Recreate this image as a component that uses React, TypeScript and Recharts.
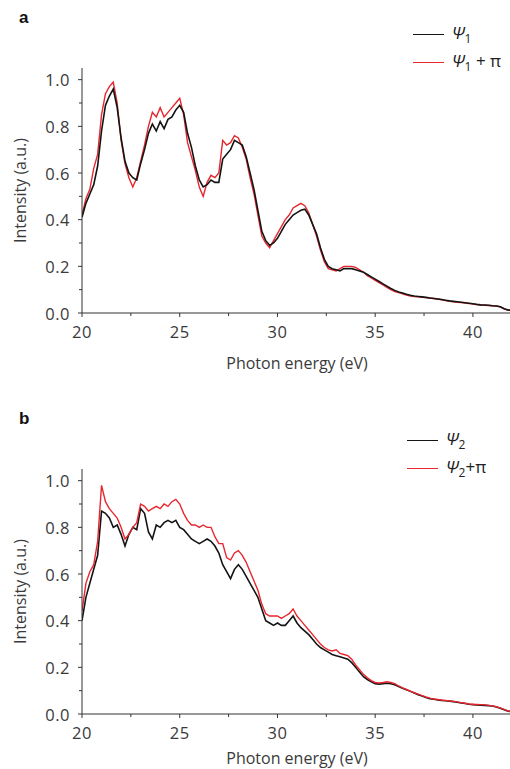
import { LineChart, Line, XAxis, YAxis, Legend } from 'recharts';

// photon energy grid (eV)
const energy = [
  20.0, 20.2, 20.4, 20.6, 20.8, 21.0, 21.2, 21.4, 21.6, 21.8,
  22.0, 22.2, 22.4, 22.6, 22.8, 23.0, 23.2, 23.4, 23.6, 23.8,
  24.0, 24.2, 24.4, 24.6, 24.8, 25.0, 25.2, 25.4, 25.6, 25.8,
  26.0, 26.2, 26.4, 26.6, 26.8, 27.0, 27.2, 27.4, 27.6, 27.8,
  28.0, 28.2, 28.4, 28.6, 28.8, 29.0, 29.2, 29.4, 29.6, 29.8,
  30.0, 30.2, 30.4, 30.6, 30.8, 31.0, 31.2, 31.4, 31.6, 31.8,
  32.0, 32.2, 32.4, 32.6, 32.8, 33.0, 33.2, 33.4, 33.6, 33.8,
  34.0, 34.2, 34.4, 34.6, 34.8, 35.0, 35.2, 35.4, 35.6, 35.8,
  36.0, 36.2, 36.4, 36.6, 36.8, 37.0, 37.2, 37.4, 37.6, 37.8,
  38.0, 38.2, 38.4, 38.6, 38.8, 39.0, 39.2, 39.4, 39.6, 39.8,
  40.0, 40.2, 40.4, 40.6, 40.8, 41.0, 41.2, 41.4, 41.6, 41.8,
  42.0,
];

// panel a
const psi1 = [
  0.41, 0.47, 0.51, 0.55, 0.63, 0.78, 0.89, 0.93, 0.96, 0.88,
  0.75, 0.65, 0.60, 0.58, 0.57, 0.64, 0.70, 0.77, 0.81, 0.78,
  0.82, 0.79, 0.83, 0.84, 0.87, 0.89, 0.86, 0.77, 0.71, 0.63,
  0.57, 0.54, 0.55, 0.57, 0.56, 0.56, 0.66, 0.68, 0.70, 0.74,
  0.73, 0.72, 0.67, 0.60, 0.53, 0.44, 0.35, 0.31, 0.29, 0.30,
  0.32, 0.35, 0.38, 0.40, 0.42, 0.43, 0.44, 0.445, 0.42, 0.38,
  0.34, 0.28, 0.23, 0.20, 0.19, 0.185, 0.18, 0.19, 0.19, 0.19,
  0.185, 0.18, 0.175, 0.165, 0.155, 0.145, 0.135, 0.125, 0.115, 0.105,
  0.097, 0.09, 0.086, 0.08, 0.076, 0.073, 0.071, 0.069, 0.067, 0.064,
  0.062, 0.06, 0.058, 0.055, 0.052, 0.05, 0.048, 0.046, 0.044, 0.042,
  0.04, 0.037, 0.035, 0.034, 0.033, 0.031, 0.03, 0.027, 0.018, 0.013,
  0.012,
];
const psi1Pi = [
  0.42, 0.49, 0.53, 0.62, 0.68, 0.85, 0.94, 0.97, 0.99, 0.90,
  0.74, 0.64, 0.58, 0.54, 0.58, 0.65, 0.72, 0.80, 0.86, 0.84,
  0.88, 0.84, 0.86, 0.88, 0.90, 0.92, 0.85, 0.73, 0.67, 0.61,
  0.54, 0.50, 0.56, 0.59, 0.58, 0.60, 0.74, 0.72, 0.73, 0.76,
  0.75, 0.71, 0.66, 0.58, 0.51, 0.42, 0.33, 0.30, 0.28, 0.31,
  0.34, 0.37, 0.40, 0.42, 0.45, 0.46, 0.47, 0.46, 0.43, 0.38,
  0.33, 0.27, 0.22, 0.19, 0.185, 0.18, 0.19, 0.20, 0.20, 0.20,
  0.195, 0.185, 0.175, 0.16, 0.15, 0.14, 0.13, 0.12, 0.11, 0.10,
  0.092, 0.087, 0.082, 0.077, 0.073, 0.07, 0.069, 0.067, 0.066, 0.064,
  0.062, 0.06, 0.057, 0.053, 0.05, 0.048, 0.046, 0.045, 0.043, 0.041,
  0.038, 0.036, 0.034, 0.033, 0.032, 0.031, 0.03, 0.026, 0.018, 0.012,
  0.011,
];

// panel b
const psi2 = [
  0.40, 0.50, 0.56, 0.62, 0.68, 0.87, 0.86, 0.84, 0.80, 0.81,
  0.77, 0.72, 0.77, 0.80, 0.79, 0.88, 0.86, 0.78, 0.75, 0.81,
  0.80, 0.82, 0.83, 0.82, 0.83, 0.80, 0.79, 0.77, 0.75, 0.74,
  0.73, 0.74, 0.75, 0.74, 0.72, 0.69, 0.64, 0.61, 0.58, 0.62,
  0.64, 0.62, 0.59, 0.56, 0.53, 0.50, 0.45, 0.40, 0.39, 0.38,
  0.39, 0.38, 0.38, 0.40, 0.42, 0.39, 0.37, 0.355, 0.34, 0.32,
  0.30, 0.285, 0.275, 0.265, 0.255, 0.25, 0.245, 0.24, 0.235, 0.22,
  0.20, 0.18, 0.16, 0.148, 0.138, 0.13, 0.128, 0.13, 0.132, 0.13,
  0.125, 0.118, 0.11, 0.104, 0.097, 0.09, 0.083, 0.077, 0.071, 0.066,
  0.063, 0.06, 0.058, 0.057, 0.055, 0.053, 0.05, 0.047, 0.045, 0.042,
  0.04, 0.039, 0.038, 0.037, 0.036, 0.034, 0.03, 0.025, 0.018, 0.012,
  0.01,
];
const psi2Pi = [
  0.44, 0.56, 0.61, 0.64, 0.74, 0.98, 0.91, 0.88, 0.86, 0.84,
  0.80, 0.75, 0.77, 0.80, 0.82, 0.90, 0.89, 0.87, 0.88, 0.89,
  0.88, 0.90, 0.89, 0.91, 0.92, 0.90, 0.86, 0.83, 0.81, 0.81,
  0.80, 0.81, 0.80, 0.80, 0.76, 0.73, 0.73, 0.67, 0.66, 0.69,
  0.70, 0.68, 0.65, 0.61, 0.57, 0.53, 0.47, 0.43, 0.42, 0.42,
  0.42, 0.41, 0.42, 0.43, 0.45, 0.42, 0.40, 0.38, 0.36, 0.34,
  0.32, 0.30, 0.285, 0.275, 0.27, 0.275, 0.26, 0.255, 0.25, 0.235,
  0.21, 0.19, 0.17, 0.155, 0.143, 0.135, 0.133, 0.135, 0.138, 0.135,
  0.13, 0.12, 0.112, 0.105, 0.098, 0.091, 0.085, 0.079, 0.073, 0.068,
  0.064, 0.062, 0.06, 0.058, 0.056, 0.054, 0.052, 0.049, 0.046, 0.043,
  0.042, 0.041, 0.04, 0.039, 0.037, 0.035, 0.031, 0.026, 0.02, 0.013,
  0.01,
];

const xTicks = [20, 22.5, 25, 27.5, 30, 32.5, 35, 37.5, 40];
const yTicks = [0, 0.1, 0.2, 0.3, 0.4, 0.5, 0.6, 0.7, 0.8, 0.9, 1.0];

const FONT = '"Open Sans", Lato, sans-serif';
const TXT = '#3a3a3a';
const AXIS = '#333';
const RED = '#e8262d';
const BLACK = '#141414';

const XTick = (props: any) => {
  const { x, y, payload } = props;
  const v = payload.value;
  const major = v % 5 === 0;
  return (
    <g>
      <line x1={x} y1={y} x2={x} y2={y + (major ? 4 : 3)} stroke={AXIS} />
      {major && (
        <text x={x} y={y + 18} textAnchor="middle" dominantBaseline="central" fill={TXT} fontSize={16.5} letterSpacing={0.5} fontFamily={FONT}>
          {v}
        </text>
      )}
    </g>
  );
};

const YTick = (props: any) => {
  const { x, y, payload } = props;
  const v = payload.value;
  const major = Math.round(v * 10) % 2 === 0;
  return (
    <g>
      <line x1={x} y1={y} x2={x - (major ? 4 : 3)} y2={y} stroke={AXIS} />
      {major && (
        <text x={x - 12} y={y} textAnchor="end" dominantBaseline="central" fill={TXT} fontSize={16.5} letterSpacing={0.5} fontFamily={FONT}>
          {v.toFixed(1)}
        </text>
      )}
    </g>
  );
};

function Psi({ sub, plus }: { sub: string; plus?: boolean }) {
  return (
    <span style={{ fontFamily: FONT, fontSize: 17, color: '#222', whiteSpace: 'nowrap' }}>
      <i>Ψ</i>
      <sub style={{ fontSize: 12 }}>{sub}</sub>
      {plus && <span>{sub === '1' ? ' + π' : '+π'}</span>}
    </span>
  );
}

interface PanelProps {
  tag: string;
  sub: string;
  a: number[];
  b: number[];
  top: number;
  height: number;
  labelOffset: number;
  legendX: number;
  legendY: number;
  redOnTop?: boolean;
}

function Panel({ tag, sub, a, b, top, height, labelOffset, legendX, legendY, redOnTop }: PanelProps) {
  const rows = energy.map((e, i) => ({ e, s: a[i], p: b[i] }));
  const black = (
    <Line key="s" dataKey="s" name="s" stroke={BLACK} strokeWidth={1.6} dot={false} isAnimationActive={false} />
  );
  const red = (
    <Line key="p" dataKey="p" name="p" stroke={RED} strokeWidth={1.4} dot={false} isAnimationActive={false} />
  );
  return (
    <div style={{ position: 'relative', width: 510, height, overflow: 'hidden' }}>
      <div style={{ position: 'absolute', left: 19, top: top - 4, fontFamily: 'Arial, sans-serif', fontWeight: 'bold', fontSize: 17, color: '#111' }}>
        {tag}
      </div>
      <LineChart width={512} height={height} data={rows} margin={{ top, right: 0, left: 0, bottom: 0 }}>
        <XAxis
          dataKey="e"
          type="number"
          domain={[20, 42]}
          ticks={xTicks}
          interval={0}
          tickSize={0}
          tickMargin={0}
          tickLine={false}
          tick={<XTick />}
          stroke={AXIS}
          height={height - top - 301}
          allowDataOverflow
          label={{ value: 'Photon energy (eV)', position: 'insideBottom', offset: labelOffset, fill: TXT, fontSize: 16, fontFamily: FONT }}
        />
        <XAxis xAxisId="top" orientation="top" dataKey="e" type="number" domain={[20, 42]} height={0} tick={false} tickLine={false} stroke={AXIS} />
        <YAxis
          type="number"
          domain={[0, 1.05]}
          ticks={yTicks}
          interval={0}
          width={82}
          tickSize={0}
          tickMargin={0}
          tickLine={false}
          tick={<YTick />}
          stroke={AXIS}
          allowDataOverflow
          label={{ value: 'Intensity (a.u.)', angle: -90, position: 'insideLeft', offset: 20, fill: TXT, fontSize: 16, fontFamily: FONT, style: { textAnchor: 'middle' } }}
        />
        <Legend
          layout="vertical"
          align="center"
          verticalAlign="top"
          wrapperStyle={{ position: 'absolute', left: legendX, top: legendY, width: 100 }}
          content={() => (
            <div>
              {[{ c: BLACK, plus: false }, { c: RED, plus: true }].map((it, i) => (
                <div key={i} style={{ display: 'flex', alignItems: 'center', height: 28 }}>
                  <div style={{ width: 31, height: 0, borderTop: `1.3px solid ${it.c}`, marginRight: 8 }} />
                  <Psi sub={sub} plus={it.plus} />
                </div>
              ))}
            </div>
          )}
        />
        {redOnTop ? [black, red] : [red, black]}
      </LineChart>
    </div>
  );
}

export default function App() {
  return (
    <div style={{ position: 'absolute', left: 0, top: 0, width: 510, height: 769, background: '#fff' }}>
      <Panel tag="a" sub="1" a={psi1} b={psi1Pi} top={12} height={380} labelOffset={11} legendX={413} legendY={20} />
      <div style={{ height: 10 }} />
      <Panel tag="b" sub="2" a={psi2} b={psi2Pi} top={23} height={379} labelOffset={5} legendX={407} legendY={36} redOnTop />
    </div>
  );
}
